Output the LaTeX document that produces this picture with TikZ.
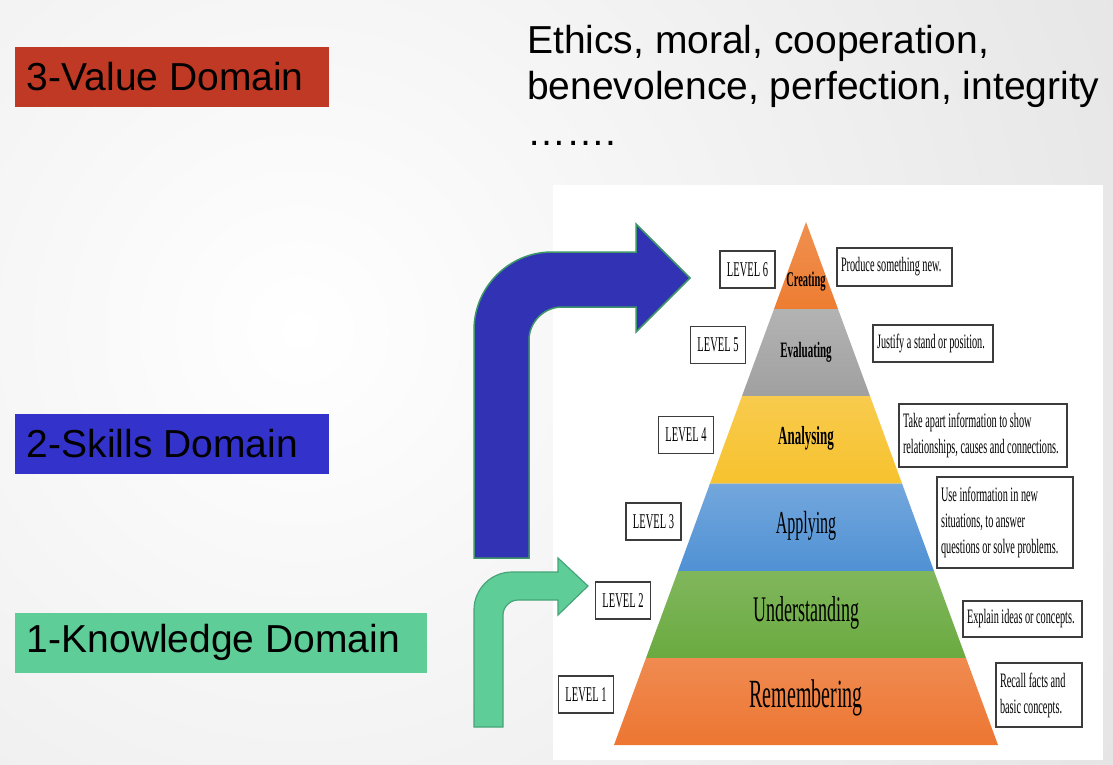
\documentclass[tikz,border=0pt]{standalone}
\usepackage{fontspec}
\setmainfont{Liberation Sans}
\newfontfamily\pyrfont[FakeStretch=0.5]{Liberation Serif}
\usetikzlibrary{positioning}

\definecolor{valuered}{RGB}{192,57,37}
\definecolor{skillblue}{RGB}{51,51,204}
\definecolor{knowgreen}{RGB}{94,205,152}
\definecolor{arrowblue}{RGB}{50,50,180}
\definecolor{bluerim}{RGB}{62,150,105}
\definecolor{greenrim}{RGB}{70,165,120}
\definecolor{creatorange}{RGB}{237,125,49}
\definecolor{evalgray}{RGB}{160,160,160}
\definecolor{analyellow}{RGB}{247,194,46}
\definecolor{applyblue}{RGB}{80,145,212}
\definecolor{undergreen}{RGB}{106,170,64}
\definecolor{rememorange}{RGB}{237,118,50}
\definecolor{boxrim}{RGB}{60,60,60}

\tikzset{
  domainbox/.style={inner xsep=12pt, inner ysep=0pt, minimum height=60pt, align=flush left, font=\fontsize{39}{45}\selectfont},
  levelbox/.style={draw=boxrim, line width=1.3pt, fill=white, minimum width=55pt, minimum height=37pt, inner sep=0pt, font=\pyrfont\fontsize{21}{24}\selectfont},
  descbox/.style={draw=boxrim, line width=1.3pt, fill=white, inner xsep=4pt, inner ysep=0pt, align=flush left, font=\pyrfont\fontsize{20.5}{26}\selectfont},
  bandtext/.style={font=\pyrfont\fontsize{#1}{#1}\selectfont},
  bandbold/.style={font=\pyrfont\bfseries\fontsize{#1}{#1}\selectfont}
}

\begin{document}
\begin{tikzpicture}[x=1pt, y=-1pt]
\useasboundingbox (0,0) rectangle (1113,764);
% slide background
\begin{scope}
\clip (0,0) rectangle (1113,764);
\shade[inner color=white, outer color=black!22] (300,330) circle (2000);
\end{scope}
\fill[white] (553,185) rectangle (1103,760);

% domains
\node[domainbox, fill=valuered, text width=290pt] (value) at (172,77) {3-Value Domain};
\node[domainbox, fill=skillblue, text width=290pt] (skills) at (172,444) {2-Skills Domain};
\node[domainbox, fill=knowgreen, text width=388pt] (knowledge) at (221,642.5) {1-Knowledge Domain};
\node[anchor=north west, inner sep=0pt, align=left, font=\fontsize{39}{46}\selectfont] (ethics) at (527,25)
  {Ethics, moral, cooperation,\\benevolence, perfection, integrity\\……. };

% bent arrows
\draw[draw=bluerim, line width=1.5pt, fill=arrowblue] (474,558) -- (474,330) .. controls (474,287) and (509,252) .. (552,252) -- (636,252) -- (636,224) -- (690,278) -- (636,332) -- (636,307) -- (562,307) .. controls (544,307) and (529,322) .. (529,340) -- (529,558) -- cycle;
\draw[draw=greenrim, line width=1.2pt, fill=knowgreen] (474,727) -- (474,610) .. controls (474,589) and (491,572) .. (512,572) -- (558,572) -- (558,558) -- (588,586) -- (558,615) -- (558,600) -- (518,600) .. controls (510,600) and (503,607) .. (503,615) -- (503,727) -- cycle;

% pyramid
\shade[top color=creatorange!85!white, bottom color=creatorange] (806,222) -- (838,309) -- (774,309) -- cycle;
\shade[top color=evalgray!80!white, bottom color=evalgray] (774,309) -- (838,309) -- (870,396) -- (742,396) -- cycle;
\shade[top color=analyellow!85!white, bottom color=analyellow] (742,396) -- (870,396) -- (902,483.5) -- (710,483.5) -- cycle;
\shade[top color=applyblue!80!white, bottom color=applyblue] (710,483.5) -- (902,483.5) -- (934,571) -- (678,571) -- cycle;
\shade[top color=undergreen!85!white, bottom color=undergreen] (678,571) -- (934,571) -- (966,658) -- (646,658) -- cycle;
\shade[top color=rememorange!85!white, bottom color=rememorange] (646,658) -- (966,658) -- (998,745) -- (614,745) -- cycle;

\node[bandbold=21] (creating) at (806,282) {Creating};
\node[bandbold=22] (evaluating) at (806,352) {Evaluating};
\node[bandbold=26] (analysing) at (806,438) {Analysing};
\node[bandtext=32] (applying) at (806,526) {Applying};
\node[bandtext=36] (understanding) at (806,613) {Understanding};
\node[bandtext=40] (remembering) at (806,698) {Remembering};

% levels
\node[levelbox] (lvl6) at (747.5,269.5) {LEVEL 6};
\node[levelbox] (lvl5) at (718,345) {LEVEL 5};
\node[levelbox] (lvl4) at (686,435) {LEVEL 4};
\node[levelbox] (lvl3) at (653.5,521.5) {LEVEL 3};
\node[levelbox] (lvl2) at (623,600.5) {LEVEL 2};
\node[levelbox] (lvl1) at (586,694.5) {LEVEL 1};

% descriptions
\node[descbox, text width=107pt, minimum height=38pt] (produce) at (894.5,267) {Produce something new.};
\node[descbox, text width=112pt, minimum height=37pt] (justify) at (933,343.5) {Justify a stand or position.};
\node[descbox, text width=160pt, minimum height=63pt] (takeapart) at (983,435.5) {Take apart information to show\\relationships, causes and connections.};
\node[descbox, text width=128pt, minimum height=91pt] (useinfo) at (1005,522.5) {Use information in new\\situations, to answer\\questions or solve problems.};
\node[descbox, text width=111pt, minimum height=36pt] (explain) at (1022.5,619) {Explain ideas or concepts.};
\node[descbox, text width=78pt, minimum height=64pt] (recall) at (1039,695) {Recall facts and\\basic concepts.};
\end{tikzpicture}
\end{document}
